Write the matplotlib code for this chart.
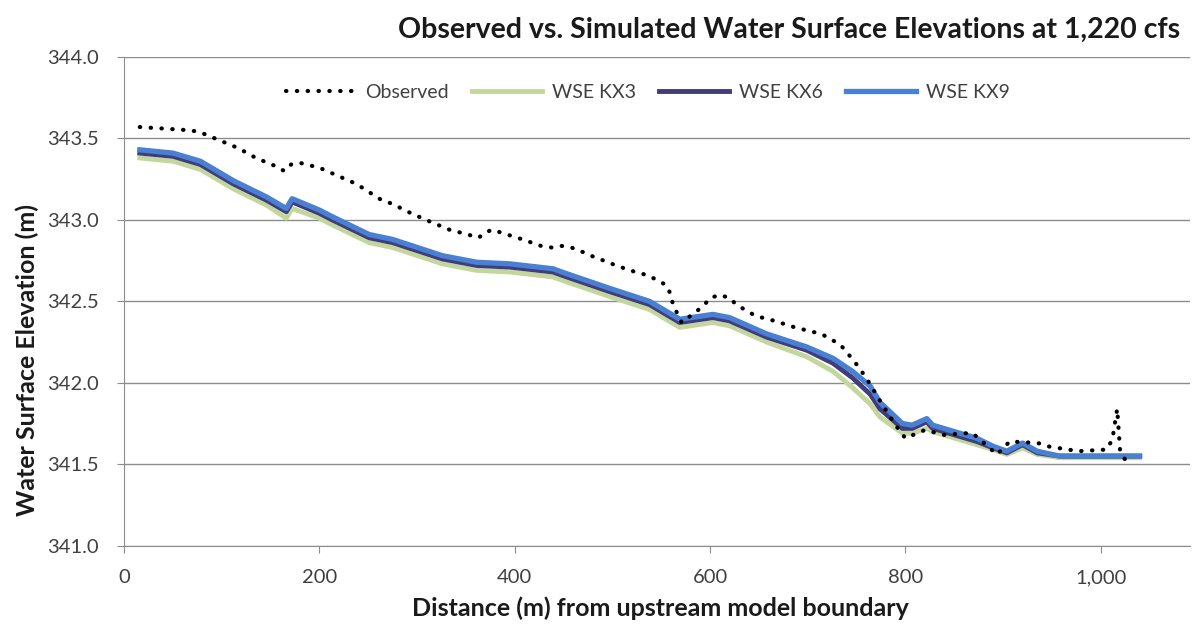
import matplotlib.pyplot as plt
from matplotlib.ticker import FuncFormatter, MultipleLocator

plt.rcParams['font.family'] = ['Lato', 'DejaVu Sans']

# Observed water surface (m) vs distance from upstream boundary (m)
obs_x = [16, 67, 77, 97, 117, 135, 155, 164, 171, 180, 200, 219, 238, 264, 274,
         294, 313, 333, 352, 363, 369, 377, 387, 408, 427, 438, 448, 458, 467,
         478, 487, 495, 518, 536, 546, 555, 560, 562, 571, 593, 600, 610, 620,
         627, 638, 647, 666, 687, 707, 717, 726, 734, 741, 748, 754, 760, 775,
         790, 800, 820, 840, 859, 869, 894, 907, 936, 946, 956, 967, 977, 1006,
         1012, 1017, 1020, 1025]
obs_y = [343.57, 343.55, 343.54, 343.49, 343.44, 343.38, 343.33, 343.30, 343.34,
         343.35, 343.32, 343.27, 343.22, 343.12, 343.10, 343.04, 342.99, 342.94,
         342.91, 342.89, 342.92, 342.94, 342.92, 342.88, 342.84, 342.83, 342.84,
         342.83, 342.81, 342.78, 342.76, 342.74, 342.69, 342.66, 342.63, 342.60,
         342.54, 342.48, 342.37, 342.47, 342.52, 342.54, 342.52, 342.48, 342.44,
         342.41, 342.38, 342.34, 342.31, 342.29, 342.26, 342.23, 342.18, 342.13,
         342.08, 342.03, 341.88, 341.74, 341.66, 341.71, 341.68, 341.69, 341.69,
         341.56, 341.64, 341.63, 341.61, 341.60, 341.59, 341.58, 341.59, 341.65,
         341.84, 341.58, 341.53]

# Simulated runs share one set of stations
sim_x = [16, 50, 78, 112, 146, 166, 172, 200, 213, 251, 275, 326, 361, 395, 439,
         453, 497, 538, 569, 603, 620, 658, 699, 726, 746, 764, 774, 797, 807,
         822, 828, 856, 873, 890, 904, 920, 935, 958, 1000, 1040]
kx3 = [343.38, 343.36, 343.31, 343.19, 343.09, 343.01, 343.07, 343.01, 342.97,
       342.86, 342.83, 342.73, 342.69, 342.68, 342.65, 342.62, 342.53, 342.45,
       342.34, 342.37, 342.35, 342.25, 342.16, 342.07, 341.97, 341.87, 341.79,
       341.69, 341.69, 341.72, 341.70, 341.65, 341.62, 341.59, 341.56, 341.60,
       341.56, 341.54, 341.54, 341.54]
kx6 = [343.41, 343.39, 343.34, 343.22, 343.12, 343.05, 343.11, 343.04, 343.00,
       342.89, 342.86, 342.76, 342.72, 342.71, 342.68, 342.65, 342.56, 342.48,
       342.37, 342.40, 342.38, 342.28, 342.20, 342.12, 342.03, 341.93, 341.84,
       341.72, 341.72, 341.76, 341.72, 341.67, 341.64, 341.60, 341.57, 341.62,
       341.57, 341.55, 341.55, 341.55]
kx9 = [343.43, 343.41, 343.36, 343.24, 343.14, 343.07, 343.13, 343.06, 343.02,
       342.91, 342.88, 342.78, 342.74, 342.73, 342.70, 342.67, 342.58, 342.50,
       342.39, 342.42, 342.40, 342.30, 342.22, 342.15, 342.07, 341.98, 341.88,
       341.75, 341.74, 341.78, 341.74, 341.69, 341.66, 341.61, 341.58, 341.63,
       341.58, 341.55, 341.55, 341.55]

fig = plt.figure(figsize=(11.94, 6.24), dpi=100)
ax = fig.add_axes([0.1040, 0.1255, 0.8930, 0.7832])

ax.plot(obs_x, obs_y, color='black', lw=3, linestyle=(0, (0.1, 2.5)),
        dash_capstyle='round', label='Observed', zorder=5)
ax.plot(sim_x, kx3, color='#c3d69b', lw=3.5, label='WSE KX3', zorder=2,
        solid_joinstyle='round')
ax.plot(sim_x, kx6, color='#403d7a', lw=3.5, label='WSE KX6', zorder=3,
        solid_joinstyle='round')
ax.plot(sim_x, kx9, color='#4a80d4', lw=3.8, label='WSE KX9', zorder=4,
        solid_joinstyle='round')

ax.set_xlim(0, 1092)
ax.set_ylim(341.0, 344.0)
ax.xaxis.set_major_locator(MultipleLocator(200))
ax.yaxis.set_major_locator(MultipleLocator(0.5))
ax.xaxis.set_major_formatter(FuncFormatter(lambda v, p: f"{v:,.0f}"))
ax.yaxis.set_major_formatter(FuncFormatter(lambda v, p: f"{v:.1f}"))
ax.grid(axis='y', color='#8c8c8c', lw=1)
ax.set_axisbelow(True)

for s in ['top', 'right']:
    ax.spines[s].set_visible(False)
for s in ['left', 'bottom']:
    ax.spines[s].set_color('#8c8c8c')
ax.tick_params(colors='#8c8c8c', labelcolor='#404040', labelsize=14.5, length=5,
               direction='out')
ax.tick_params(axis='x', pad=12)
ax.tick_params(axis='y', pad=13)

leg = ax.legend(loc='center', bbox_to_anchor=(0.491, 0.928), ncol=4, frameon=False,
                fontsize=14, handlelength=3.6, columnspacing=1.2, handletextpad=0.5)
for t in leg.get_texts():
    t.set_color('#404040')

fig.text(0.988, 0.952, 'Observed vs. Simulated Water Surface Elevations at 1,220 cfs',
         ha='right', va='center', fontsize=20.5, fontweight='bold', color='#1a1a1a')
fig.text(660 / 1194, 1 - 608 / 624, 'Distance (m) from upstream model boundary',
         ha='center', va='center', fontsize=18, fontweight='bold', color='#1a1a1a')
fig.text(27.5 / 1194, 1 - 359.5 / 624, 'Water Surface Elevation (m)', rotation=90,
         ha='center', va='center', fontsize=18, fontweight='bold', color='#1a1a1a')

fig.savefig('out.png', dpi=100)
